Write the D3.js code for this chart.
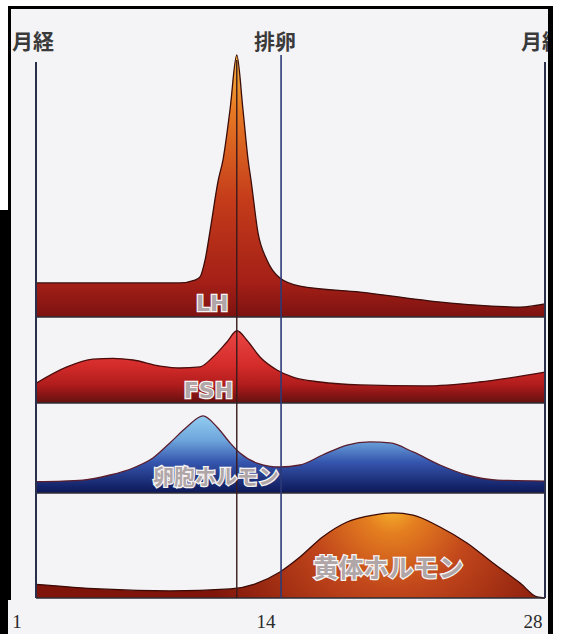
<html>
<head>
<script src="https://d3js.org/d3.v7.min.js"></script>
<style>
  body { margin: 0; background: #fff; }
  .tick-label { font-family: "Liberation Serif", "DejaVu Serif", serif; font-size: 19px; fill: #2a2a2a; }
  .marker-label { font-family: "Noto Sans CJK JP", sans-serif; font-weight: bold; font-size: 21px; fill: #3a3a3a; }
  .band-label { font-weight: bold; fill: #b0a6a8; stroke: #f6f4f4; stroke-width: 2.6px; paint-order: stroke fill; }
</style>
</head>
<body>
<svg id="chart" width="561" height="634"></svg>
<script>
// cycle day markers along the top, day ticks along the bottom
const markerDays = [1, 14, 28];
const markerLabels = ['月経', '排卵', '月経'];
const tickDays = [1, 14, 28];

// hormone levels, relative (0-100) inside each band
const lhDays   = [1, 5, 8.6, 9.43, 9.7, 9.97, 10.28, 10.66, 10.92, 11.29, 11.65, 11.98, 12.25, 12.41, 12.78, 13.25, 13.94, 15, 18.2, 23, 26.7, 28];
const lhLevels = [13, 13, 13, 14.1, 15.3, 21.8, 35, 52, 60, 79, 100, 79, 60, 52, 32, 21.8, 14.9, 11.8, 9.5, 5.3, 3.8, 5];

const fshDays   = [1, 2.64, 4.02, 5.08, 6.15, 7.58, 8.64, 9.7, 10.39, 11.13, 11.66, 12.19, 12.88, 13.78, 14.63, 16.07, 18.19, 21.6, 24.5, 28];
const fshLevels = [23, 42, 51, 52, 50, 43, 40.7, 42, 53.5, 71, 84, 73, 53.5, 38.4, 30, 24.4, 21, 19.8, 24.4, 36];

const estDays   = [1, 3.49, 4.93, 6.15, 7.2, 8.1, 9, 9.86, 10.6, 11.3, 11.82, 12.72, 13.94, 15, 16.2, 17.5, 18.72, 19.78, 21, 22.43, 23.86, 25.46, 28];
const estLevels = [12.6, 14.4, 20, 27.8, 38.9, 55.6, 73.3, 85.6, 73.3, 55.6, 44.4, 33.3, 28.9, 31.1, 42.2, 53.3, 56.7, 55.6, 45.6, 31.1, 20, 14.4, 13.3];

const progDays   = [1, 4.4, 8.1, 11.3, 12.6, 13.94, 15, 16.2, 17.5, 18.9, 19.94, 21, 22.43, 23.86, 25.24, 26.68, 27.58, 28];
const progLevels = [13, 8.6, 6.7, 8.6, 13.3, 24.8, 39, 58.1, 72.4, 79, 81, 79, 67.6, 52.4, 33.3, 14.3, 1, 0];

const svg = d3.select('svg#chart');
const x = d3.scaleLinear().domain([1, 28]).range([36, 545]);

const panels = [
  {key: 'lh',   days: lhDays,   levels: lhLevels,   top: 55,  base: 317, label: 'LH',
   font: '"DejaVu Sans", sans-serif', size: 22, labelDay: 10.35, labelDy: -6, stroke: '#3a0c0a'},
  {key: 'fsh',  days: fshDays,  levels: fshLevels,  top: 317, base: 403, label: 'FSH',
   font: '"DejaVu Sans", sans-serif', size: 22, labelDay: 10.15, labelDy: -5, stroke: '#4a0c0c'},
  {key: 'est',  days: estDays,  levels: estLevels,  top: 403, base: 493, label: '卵胞ホルモン',
   font: '"Noto Sans CJK JP", sans-serif', size: 21, labelDay: 10.55, labelDy: -9, stroke: '#5a1e2e'},
  {key: 'prog', days: progDays, levels: progLevels, top: 493, base: 598, label: '黄体ホルモン',
   font: '"Noto Sans CJK JP", sans-serif', size: 25, labelDay: 19.7, labelDy: -21, stroke: '#3a0a06'}
];

const defs = svg.append('defs');
function vGrad(id, stops) {
  const y0 = stops[0][0], y1 = stops[stops.length - 1][0];
  const g = defs.append('linearGradient').attr('id', id)
    .attr('gradientUnits', 'userSpaceOnUse').attr('x1', 0).attr('x2', 0)
    .attr('y1', y0).attr('y2', y1);
  stops.forEach(s => g.append('stop').attr('offset', (s[0] - y0) / (y1 - y0)).attr('stop-color', s[1]));
}
vGrad('g-lh', [[55, '#f6b43a'], [110, '#e77a24'], [200, '#c43c1a'], [283, '#a41f17'], [317, '#7c1210']]);
vGrad('g-fsh', [[331, '#ea4644'], [365, '#d42c2a'], [385, '#b01c1c'], [403, '#64100f']]);
vGrad('g-est', [[416, '#92ccef'], [440, '#6ea6dc'], [462, '#3656ae'], [493, '#0c1758']]);
const rg = defs.append('radialGradient').attr('id', 'g-prog')
  .attr('gradientUnits', 'userSpaceOnUse').attr('cx', 392).attr('cy', 506).attr('r', 200);
[[0, '#f8b42c'], [0.14, '#e47e20'], [0.42, '#c1461b'], [1, '#7e140a']]
  .forEach(s => rg.append('stop').attr('offset', s[0]).attr('stop-color', s[1]));

// page background inside the frame
svg.append('rect').attr('x', 9).attr('y', 7).attr('width', 541).attr('height', 627).attr('fill', '#f4f4f6');

panels.forEach(p => {
  const y = d3.scaleLinear().domain([0, 100]).range([p.base, p.top]);
  const pts = p.days.map((d, i) => [d, p.levels[i]]);
  const area = d3.area().x(d => x(d[0])).y0(p.base).y1(d => y(d[1])).curve(d3.curveMonotoneX);
  const line = d3.line().x(d => x(d[0])).y(d => y(d[1])).curve(d3.curveMonotoneX);
  svg.append('path').attr('d', area(pts)).attr('fill', `url(#g-${p.key})`);
  svg.append('path').attr('d', line(pts)).attr('fill', 'none')
    .attr('stroke', p.stroke).attr('stroke-width', 1.3);
  // band baseline
  svg.append('line').attr('x1', x(1)).attr('x2', x(28)).attr('y1', p.base).attr('y2', p.base)
    .attr('stroke', '#2e2e34').attr('stroke-width', 1.6);
});

// LH peak line
const lhPeak = lhDays[d3.maxIndex(lhLevels)];
svg.append('line').attr('x1', x(lhPeak)).attr('x2', x(lhPeak)).attr('y1', 60).attr('y2', 598)
  .attr('stroke', '#3a1a1c').attr('stroke-width', 1.4);

// menstruation / ovulation markers
svg.selectAll('line.marker').data(markerDays).join('line')
  .attr('class', 'marker')
  .attr('x1', d => x(d)).attr('x2', d => x(d))
  .attr('y1', (d, i) => i === 1 ? 55 : 62).attr('y2', 598)
  .attr('stroke', (d, i) => i === 1 ? '#2c3a78' : '#2a2f4c')
  .attr('stroke-width', (d, i) => i === 1 ? 1.6 : 2);

svg.selectAll('text.marker-label').data(markerDays).join('text')
  .attr('class', 'marker-label')
  .attr('x', (d, i) => x(d) - (i === 1 ? 6 : 3)).attr('y', 49)
  .attr('text-anchor', 'middle')
  .text((d, i) => markerLabels[i]);

// band labels
panels.forEach(p => {
  svg.append('text').attr('class', 'band-label')
    .attr('x', x(p.labelDay)).attr('y', p.base + p.labelDy)
    .attr('text-anchor', 'middle')
    .style('font-family', p.font).style('font-size', p.size + 'px')
    .text(p.label);
});

// scan frame (the right-hand 月経 is cut by it, as in the scan)
svg.append('rect').attr('x', 553).attr('y', 0).attr('width', 8).attr('height', 634).attr('fill', '#fff');
svg.append('rect').attr('x', 9.5).attr('y', 7.5).attr('width', 541).attr('height', 640)
  .attr('fill', 'none').attr('stroke', '#000').attr('stroke-width', 3);
svg.append('rect').attr('x', 548).attr('y', 6).attr('width', 5).attr('height', 628).attr('fill', '#000');
svg.append('rect').attr('x', 0).attr('y', 210).attr('width', 8).attr('height', 424).attr('fill', '#000');
svg.append('rect').attr('x', 8).attr('y', 600).attr('width', 3).attr('height', 34).attr('fill', '#f4f4f6');

// day ticks
svg.selectAll('text.tick-label').data(tickDays).join('text')
  .attr('class', 'tick-label')
  .attr('x', (d, i) => x(d) - [19, 15, 12][i]).attr('y', 628)
  .attr('text-anchor', 'middle')
  .text(d => d);
</script>
</body>
</html>
